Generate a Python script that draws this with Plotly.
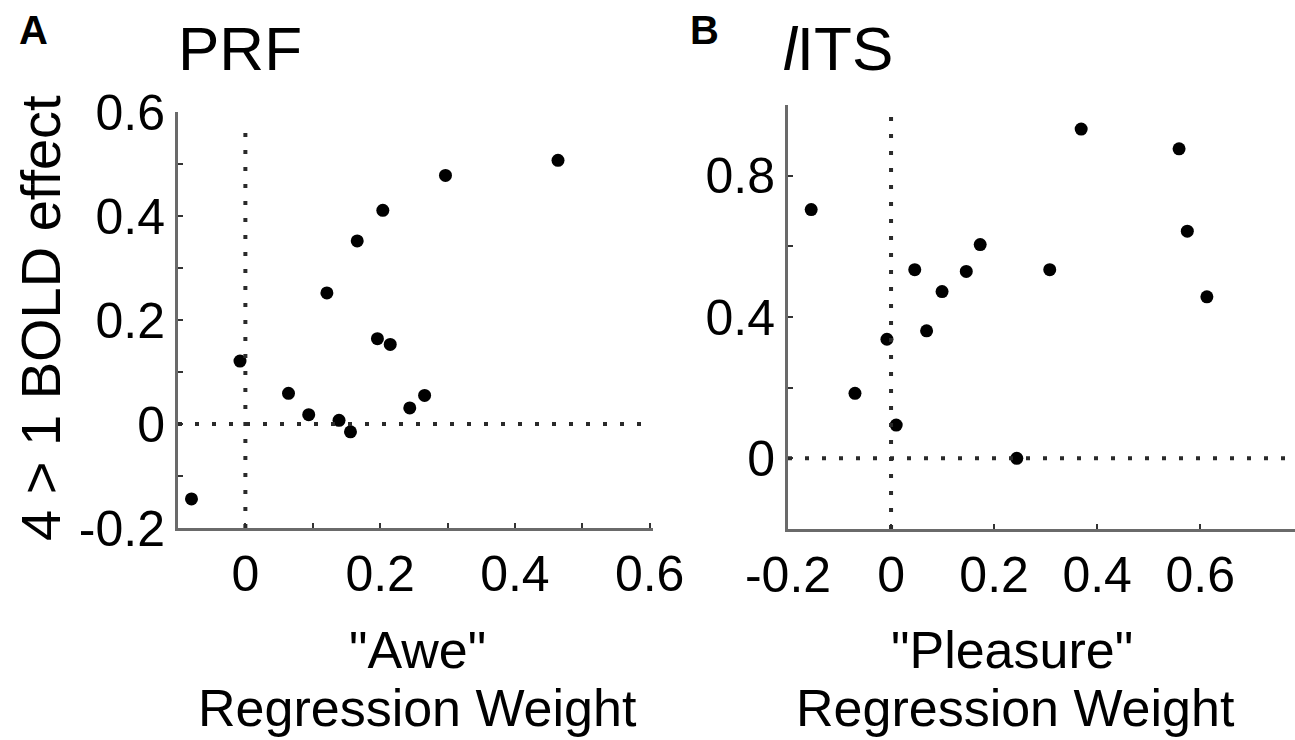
import plotly.graph_objects as go

# Panel A: PRF, "Awe" regression weight vs 4 > 1 BOLD effect
awe_x = [-0.080, -0.008, 0.064, 0.094, 0.121, 0.139, 0.156, 0.166,
         0.196, 0.204, 0.215, 0.244, 0.266, 0.297, 0.464]
awe_y = [-0.144, 0.121, 0.059, 0.018, 0.252, 0.007, -0.015, 0.352,
         0.164, 0.411, 0.153, 0.031, 0.055, 0.478, 0.507]

# Panel B: lITS, "Pleasure" regression weight vs 4 > 1 BOLD effect
pleasure_x = [-0.155, -0.070, -0.008, 0.010, 0.046, 0.069, 0.099, 0.146,
              0.173, 0.244, 0.308, 0.369, 0.559, 0.575, 0.613]
pleasure_y = [0.704, 0.184, 0.337, 0.094, 0.534, 0.361, 0.472, 0.529,
              0.605, 0.000, 0.534, 0.932, 0.876, 0.643, 0.457]

a_xticks = [0, 0.1, 0.2, 0.3, 0.4, 0.5, 0.6]
a_xlabels = ["0", "", "0.2", "", "0.4", "", "0.6"]
a_yticks = [-0.2, -0.1, 0, 0.1, 0.2, 0.3, 0.4, 0.5, 0.6]
a_ylabels = ["-0.2", "", "0", "", "0.2", "", "0.4", "", "0.6"]
b_xticks = [-0.2, 0, 0.2, 0.4, 0.6]
b_xlabels = ["-0.2", "0", "0.2", "0.4", "0.6"]
b_yticks = [0, 0.2, 0.4, 0.6, 0.8]
b_ylabels = ["0", "", "0.4", "", "0.8"]

FONT = "Liberation Sans, Arial, sans-serif"
W, H = 1295, 740

fig = go.Figure()
fig.add_trace(go.Scatter(x=awe_x, y=awe_y, mode="markers", xaxis="x", yaxis="y",
                         marker=dict(color="black", size=13), showlegend=False))
fig.add_trace(go.Scatter(x=pleasure_x, y=pleasure_y, mode="markers", xaxis="x2", yaxis="y2",
                         marker=dict(color="black", size=13), showlegend=False))


def axis(domain, rng, ticks, labels, anchor, size):
    return dict(domain=domain, range=rng, anchor=anchor, tickmode="array",
                tickvals=ticks, ticktext=labels, ticks="inside", ticklen=5,
                tickwidth=2, tickcolor="#333", showline=True, linecolor="#6a6a6a",
                linewidth=3, showgrid=False, zeroline=False, automargin=False,
                tickfont=dict(family=FONT, size=size, color="black"))


fig.update_layout(
    width=W, height=H, margin=dict(l=0, r=0, t=0, b=0),
    plot_bgcolor="white", paper_bgcolor="white",
    xaxis=axis([178 / W, 653 / W], [-0.1, 0.605], a_xticks, a_xlabels, "y", 50),
    yaxis=axis([(H - 528) / H, (H - 112) / H], [-0.2, 0.6], a_yticks, a_ylabels, "x", 50),
    xaxis2=axis([788 / W, 1.0], [-0.2, 0.784], b_xticks, b_xlabels, "y2", 50),
    yaxis2=axis([(H - 529) / H, (H - 105) / H], [-0.2, 1.0], b_yticks, b_ylabels, "x2", 50),
)

# dotted zero reference lines
dot = dict(color="#2a2a2a", width=4, dash="4px,13px")
fig.add_shape(type="line", xref="x", yref="y", x0=0, x1=0, y0=-0.2, y1=0.58, line=dot)
fig.add_shape(type="line", xref="x", yref="y", x0=-0.1, x1=0.6, y0=0, y1=0, line=dot)
fig.add_shape(type="line", xref="x2", yref="y2", x0=0, x1=0, y0=-0.2, y1=0.98, line=dot)
fig.add_shape(type="line", xref="x2", yref="y2", x0=-0.2, x1=0.784, y0=0, y1=0, line=dot)

texts = [
    ("<b>A</b>", 33, 30, 40),
    ("<b>B</b>", 704, 30, 40),
    ("PRF", 240, 48, 62),
    ("<i>l</i>ITS", 838, 48, 62),
    ('"Awe"', 417, 650, 52),
    ("Regression Weight", 417, 708, 52),
    ('"Pleasure"', 1012, 650, 52),
    ("Regression Weight", 1015, 708, 52),
]
for txt, px, py, size in texts:
    fig.add_annotation(text=txt, x=px / W, y=1 - py / H, xref="paper", yref="paper",
                       showarrow=False, xanchor="center", yanchor="middle",
                       font=dict(family=FONT, size=size, color="black"))

fig.add_annotation(text="4 > 1 BOLD effect", x=40 / W, y=1 - 318 / H, xref="paper",
                   yref="paper", showarrow=False, textangle=-90,
                   xanchor="center", yanchor="middle",
                   font=dict(family=FONT, size=56, color="black"))

fig.write_html("out.html", config={"displayModeBar": False},
               post_script="document.body.style.margin='0';")
